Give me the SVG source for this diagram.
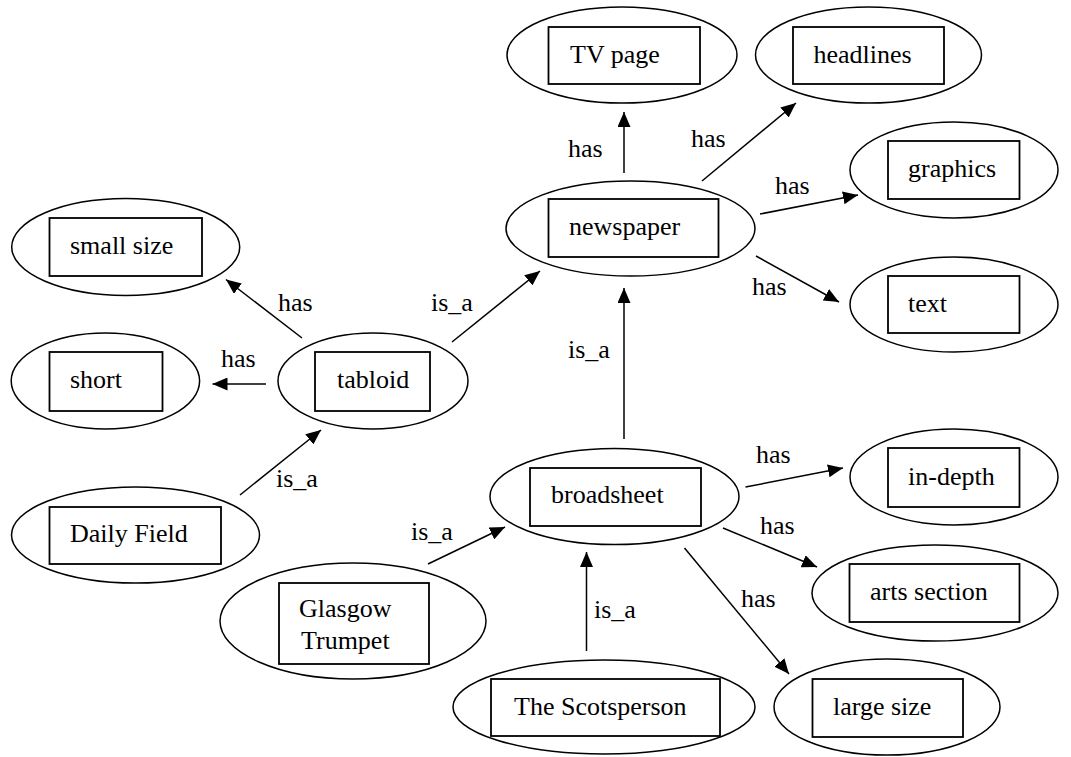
<svg xmlns="http://www.w3.org/2000/svg" width="1071" height="757" viewBox="0 0 1071 757">
<style>
.e{fill:#fff;stroke:#000;stroke-width:1.5}
.r{fill:#fff;stroke:#000;stroke-width:1.8}
.t{font-family:"Liberation Serif","Times New Roman",serif;font-size:26px;fill:#000}
.c{stroke:#000;stroke-width:1.5;fill:none;marker-end:url(#ah)}
</style>
<defs>
<marker id="ah" markerUnits="userSpaceOnUse" markerWidth="15" markerHeight="13" refX="15" refY="6.5" orient="auto">
<path d="M0,0 L15,6.5 L0,13 z" fill="#000"/>
</marker>
</defs>
<rect width="1071" height="757" fill="#fff"/>
<g id="connectors">
<line class="c" x1="624" y1="173" x2="624" y2="112"/>
<line class="c" x1="702" y1="181" x2="796" y2="103"/>
<line class="c" x1="760" y1="214" x2="858" y2="195"/>
<line class="c" x1="756" y1="256" x2="839" y2="302"/>
<line class="c" x1="624" y1="439" x2="624" y2="288"/>
<line class="c" x1="302" y1="338" x2="226" y2="279.5"/>
<line class="c" x1="266" y1="384" x2="212.5" y2="384"/>
<line class="c" x1="452" y1="342" x2="540" y2="271"/>
<line class="c" x1="240" y1="495" x2="321" y2="430"/>
<line class="c" x1="428" y1="564" x2="505" y2="527"/>
<line class="c" x1="586.5" y1="651" x2="586.5" y2="552"/>
<line class="c" x1="745.5" y1="487" x2="843" y2="468"/>
<line class="c" x1="723" y1="528" x2="817" y2="567"/>
<line class="c" x1="684.5" y1="548" x2="789" y2="674"/>
<text class="t" x="568" y="157">has</text>
<text class="t" x="691" y="147">has</text>
<text class="t" x="775" y="194">has</text>
<text class="t" x="752" y="295">has</text>
<text class="t" x="568" y="358">is_a</text>
<text class="t" x="278" y="311">has</text>
<text class="t" x="221" y="367">has</text>
<text class="t" x="431" y="311">is_a</text>
<text class="t" x="276" y="487">is_a</text>
<text class="t" x="411" y="540">is_a</text>
<text class="t" x="594" y="618">is_a</text>
<text class="t" x="756" y="463">has</text>
<text class="t" x="760" y="534">has</text>
<text class="t" x="741" y="607">has</text>
</g>
<g id="tvpage"><ellipse class="e" cx="622" cy="55" rx="115" ry="48"/><rect class="r" x="548.5" y="27" width="151.5" height="57"/><text class="t" x="570" y="63">TV page</text></g>
<g id="headlines"><ellipse class="e" cx="868.5" cy="55" rx="113" ry="48"/><rect class="r" x="793" y="27" width="151" height="57"/><text class="t" x="813.5" y="63">headlines</text></g>
<g id="graphics"><ellipse class="e" cx="954" cy="170" rx="104" ry="48"/><rect class="r" x="888" y="141" width="131.5" height="58"/><text class="t" x="908" y="177">graphics</text></g>
<g id="newspaper"><ellipse class="e" cx="630.5" cy="228.5" rx="124.5" ry="47.5"/><rect class="r" x="548.5" y="199" width="170" height="58"/><text class="t" x="569" y="235">newspaper</text></g>
<g id="text"><ellipse class="e" cx="954" cy="304.5" rx="104" ry="47.5"/><rect class="r" x="888" y="276" width="131.5" height="57"/><text class="t" x="908" y="312">text</text></g>
<g id="smallsize"><ellipse class="e" cx="125.7" cy="247" rx="114" ry="48.5"/><rect class="r" x="49.5" y="218" width="152.5" height="58"/><text class="t" x="70" y="254">small size</text></g>
<g id="short"><ellipse class="e" cx="105.4" cy="381" rx="94.2" ry="48"/><rect class="r" x="49.5" y="352" width="113" height="59"/><text class="t" x="70" y="388">short</text></g>
<g id="tabloid"><ellipse class="e" cx="373" cy="381" rx="95" ry="48"/><rect class="r" x="315" y="352" width="115" height="59"/><text class="t" x="337" y="388">tabloid</text></g>
<g id="dailyfield"><ellipse class="e" cx="135.5" cy="535" rx="124" ry="48"/><rect class="r" x="49.5" y="507" width="171.5" height="57"/><text class="t" x="70" y="542">Daily Field</text></g>
<g id="glasgow"><ellipse class="e" cx="353" cy="621" rx="133" ry="58"/><rect class="r" x="279" y="583" width="150" height="81"/><text class="t" x="299" y="617">Glasgow</text><text class="t" x="301" y="649">Trumpet</text></g>
<g id="broadsheet"><ellipse class="e" cx="614.5" cy="496.5" rx="124.5" ry="48"/><rect class="r" x="530" y="468" width="171" height="58"/><text class="t" x="551" y="503">broadsheet</text></g>
<g id="scotsperson"><ellipse class="e" cx="604" cy="707" rx="151" ry="47"/><rect class="r" x="491" y="679" width="229" height="57"/><text class="t" x="514" y="715">The Scotsperson</text></g>
<g id="indepth"><ellipse class="e" cx="954" cy="477" rx="104" ry="48"/><rect class="r" x="888" y="448" width="131.5" height="59"/><text class="t" x="908" y="485">in-depth</text></g>
<g id="artssection"><ellipse class="e" cx="935" cy="593" rx="123" ry="48"/><rect class="r" x="849.5" y="564" width="170" height="58"/><text class="t" x="870" y="600">arts section</text></g>
<g id="largesize"><ellipse class="e" cx="887" cy="707" rx="113" ry="48"/><rect class="r" x="812.5" y="679" width="150.5" height="58"/><text class="t" x="833" y="715">large size</text></g>
</svg>
